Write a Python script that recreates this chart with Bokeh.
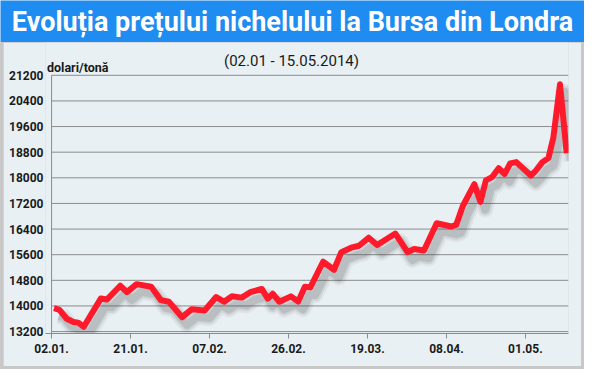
import numpy as np
from bokeh.plotting import figure
from bokeh.models import Range1d, Label, FixedTicker
from bokeh.layouts import column
from bokeh.embed import file_html
from bokeh.resources import INLINE

# ---- data (trading-day index, USD/tonne) ----
day_idx = [0.4, 1.3, 2.5, 3.6, 4.4, 5.3, 8.1, 9.1, 11.3, 12.4, 14.0, 16.4, 18.0, 19.3,
           21.5, 23.1, 25.2, 27.1, 28.4, 29.7, 31.3, 32.7, 34.6, 35.6, 36.4, 37.5,
           39.4, 40.6, 41.7, 42.6, 44.7, 46.5, 47.7, 49.5, 50.6, 52.2, 53.6, 56.6,
           58.6, 59.7, 61.3, 63.4, 65.8, 66.6, 67.7, 69.6, 70.6, 71.5, 72.5, 73.6,
           74.6, 75.5, 76.5, 78.9, 79.7, 80.8, 81.8, 82.6, 83.7, 84.8]
price = [13930, 13880, 13600, 13500, 13480, 13350, 14230, 14200, 14630, 14430, 14680, 14600, 14180, 14130,
         13650, 13900, 13860, 14280, 14130, 14300, 14260, 14430, 14530, 14230, 14380, 14130,
         14300, 14140, 14600, 14580, 15380, 15130, 15680, 15830, 15880, 16130, 15900, 16260,
         15680, 15780, 15730, 16580, 16480, 16530, 17120, 17800, 17250, 17920, 18020, 18300,
         18120, 18450, 18490, 18070, 18220, 18490, 18620, 19250, 20920, 18770]

x_tick_pos = [0, 13, 26, 39, 52, 65, 78]
x_tick_labels = ["02.01.", "21.01.", "07.02.", "26.02.", "19.03.", "08.04.", "01.05."]
y_ticks = [13200, 14000, 14800, 15600, 16400, 17200, 18000, 18800, 19600, 20400, 21200]

title_text = "Evoluția prețului nichelului la Bursa din Londra"
subtitle_text = "(02.01 - 15.05.2014)"
unit_text = "dolari/tonă"

BLUE = "#1e8cf0"
PANEL = "#e9f0f4"
FONT = "Roboto"
GRID = "#8c8c8c"

# ---- title band ----
t = figure(width=584, height=42, toolbar_location=None, output_backend="svg",
           x_range=Range1d(0, 1), y_range=Range1d(0, 1), min_border=0)
t.axis.visible = False
t.grid.visible = False
t.background_fill_color = BLUE
t.border_fill_color = BLUE
t.outline_line_color = None
t.add_layout(Label(x=0.5, y=0.5, text=title_text, text_align="center", text_baseline="middle",
                   text_color="white", text_font=FONT, text_font_style="bold",
                   text_font_size="27px"))

# ---- main chart ----
x_end = 85.1
y_bottom, y_top = 13140, 22224
p = figure(width=578, height=324, toolbar_location=None, output_backend="svg",
           x_range=Range1d(-1.0, x_end), y_range=Range1d(y_bottom, y_top),
           min_border_left=42, min_border_right=13, min_border_top=0, min_border_bottom=33)
p.background_fill_color = PANEL
p.border_fill_color = PANEL
p.outline_line_color = None
p.xgrid.visible = False
p.ygrid.visible = False

# horizontal grid lines starting at the vertical axis line
p.segment(x0=[x_tick_pos[0]] * len(y_ticks), y0=y_ticks, x1=[x_end] * len(y_ticks), y1=y_ticks,
          line_color=GRID, line_width=1)
# vertical axis line only up to the top tick
p.segment(x0=[x_tick_pos[0]], y0=[y_bottom], x1=[x_tick_pos[0]], y1=[y_ticks[-1]],
          line_color=GRID, line_width=1)

x = np.array(day_idx)
y = np.array(price)
for w, a in [(16, 0.06), (12, 0.09), (8, 0.14)]:
    p.line(x + 0.8, y - 240, line_width=w, line_color="#3a3a3a", line_alpha=a, line_join="round")
p.line(x, y, line_width=6, line_color="#ff1a2b", line_join="round", line_cap="butt")

p.xaxis.ticker = FixedTicker(ticks=x_tick_pos)
p.xaxis.major_label_overrides = {pos: lab for pos, lab in zip(x_tick_pos, x_tick_labels)}
p.yaxis.ticker = FixedTicker(ticks=y_ticks)

for ax in (p.xaxis[0], p.yaxis[0]):
    ax.major_tick_line_color = GRID
    ax.minor_tick_line_color = None
    ax.major_label_text_font = FONT
    ax.major_label_text_font_style = "bold"
    ax.major_label_text_color = "#1a1a1a"
    ax.major_label_text_font_size = "12px"
p.xaxis.axis_line_color = GRID
p.yaxis.axis_line_color = None
p.xaxis.major_tick_in = 0
p.xaxis.major_tick_out = 5
p.xaxis.major_label_standoff = 5
p.yaxis.major_tick_in = 0
p.yaxis.major_tick_out = 0
p.yaxis.major_label_standoff = 2

p.add_layout(Label(x=-0.75, y=21440, text=unit_text, text_align="left", text_baseline="middle",
                   text_font=FONT, text_font_style="bold", text_font_size="12.5px",
                   text_color="#1a1a1a"))
p.add_layout(Label(x=39.5, y=21640, text=subtitle_text, text_align="center", text_baseline="middle",
                   text_font=FONT, text_font_size="15px", text_color="#1a1a1a"))

frame = column(p, styles={"padding": "0px 3px 3px 3px", "background-color": "#c8c8c8"})
layout = column(t, frame, spacing=0)
open("out.html", "w").write(file_html(layout, INLINE))
